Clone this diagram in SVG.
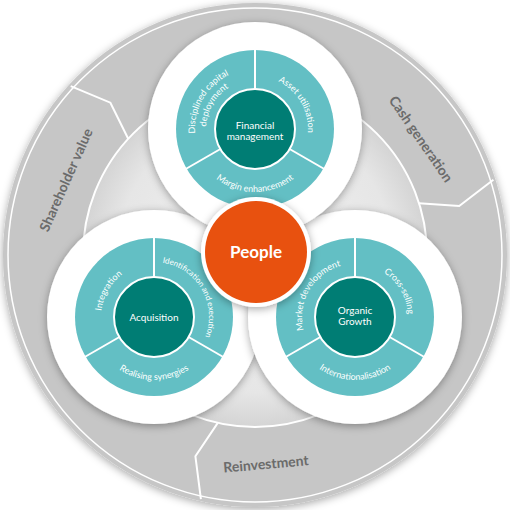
<svg xmlns="http://www.w3.org/2000/svg" xmlns:xlink="http://www.w3.org/1999/xlink" width="510" height="510" viewBox="0 0 510 510">
<style>
.ring{fill:#63bfc4}
.core{fill:#007d74;stroke:#ffffff;stroke-width:2}
.sep{stroke:#ffffff;stroke-width:2;fill:none}
.rt{font-family:Lato,"Open Sans",sans-serif;font-size:9px;fill:#ffffff}
.ct{font-family:Lato,"Open Sans",sans-serif;font-size:10px;fill:#ffffff;text-anchor:middle}
.ot{font-family:Lato,"Open Sans",sans-serif;font-size:14px;font-weight:bold;fill:#6b6b6b;text-anchor:middle}
.div{stroke:#ffffff;stroke-width:2;fill:none;stroke-linejoin:miter}
.wc{fill:#ffffff;filter:url(#sh)}
</style>
<defs>
<filter id="sh" x="-20%" y="-20%" width="140%" height="140%">
<feDropShadow dx="0" dy="2" stdDeviation="4" flood-color="#000000" flood-opacity="0.35"/>
</filter>
<radialGradient id="inner" cx="50%" cy="50%" r="50%">
<stop offset="0" stop-color="#f2f2f2"/>
<stop offset="0.8" stop-color="#e6e6e6"/>
<stop offset="1" stop-color="#d4d4d4"/>
</radialGradient>
<path id="aL53" d="M-30.40,43.42 A53,53 0 0 1 22.40,-48.03"/>
<path id="aL60" d="M-34.42,49.15 A60,60 0 0 1 25.36,-54.38"/>
<path id="aL49" d="M-28.11,40.14 A49,49 0 0 1 20.71,-44.41"/>
<path id="aR53" d="M-22.40,-48.03 A53,53 0 0 1 30.40,43.42"/>
<path id="aR55" d="M-23.24,-49.85 A55,55 0 0 1 31.55,45.06"/>
<path id="aB63" d="M-62.76,5.49 A63,63 0 0 0 62.76,5.49"/>
</defs>
<rect width="510" height="510" fill="#ffffff"/>

<g id="outer-ring">
<circle cx="255" cy="255" r="252" fill="#c6c6c6" filter="url(#sh)"/>
<circle cx="255" cy="255" r="247" fill="none" stroke="#ffffff" stroke-width="1.5"/>
<circle cx="255" cy="255" r="172" fill="url(#inner)" stroke="#ffffff" stroke-width="2"/>
</g>

<g id="connectors">
<polyline class="div" points="70.7,86.1 110.4,102.7 128.2,138.8"/>
<polyline class="div" points="493.4,179.8 459.2,206.0 419.0,203.3"/>
<polyline class="div" points="200.9,499.1 195.4,456.3 217.8,422.9"/>
</g>

<g id="label-shareholder">
<text class="ot" transform="translate(66,180) rotate(-66)" dy="0.35em">Shareholder value</text>
</g>
<g id="label-cash">
<text class="ot" transform="translate(421,139) rotate(55.5)" dy="0.35em">Cash generation</text>
</g>
<g id="label-reinvestment">
<text class="ot" transform="translate(266,464) rotate(-5)" dy="0.35em">Reinvestment</text>
</g>

<g id="node-acquisition" transform="translate(154,317)">
<circle class="wc" r="107"/>
<circle class="ring" r="79"/>
<line class="sep" x1="0" y1="-40" x2="0" y2="-80"/>
<line class="sep" x1="34.6" y1="20" x2="69.3" y2="40"/>
<line class="sep" x1="-34.6" y1="20" x2="-69.3" y2="40"/>
<circle class="core" r="40"/>
<text class="rt"><textPath href="#aL53" xlink:href="#aL53" startOffset="50%" text-anchor="middle">Integration</textPath></text>
<text class="rt" style="font-size:8px"><textPath href="#aR55" xlink:href="#aR55" startOffset="50%" text-anchor="middle">Identification and execution</textPath></text>
<text class="rt"><textPath href="#aB63" xlink:href="#aB63" startOffset="50%" text-anchor="middle">Realising synergies</textPath></text>
<text class="ct" x="0" y="3.5">Acquisition</text>
</g>

<g id="node-organic" transform="translate(355,317)">
<circle class="wc" r="107"/>
<circle class="ring" r="79"/>
<line class="sep" x1="0" y1="-40" x2="0" y2="-80"/>
<line class="sep" x1="34.6" y1="20" x2="69.3" y2="40"/>
<line class="sep" x1="-34.6" y1="20" x2="-69.3" y2="40"/>
<circle class="core" r="40"/>
<text class="rt"><textPath href="#aL53" xlink:href="#aL53" startOffset="50%" text-anchor="middle">Market development</textPath></text>
<text class="rt"><textPath href="#aR53" xlink:href="#aR53" startOffset="50%" text-anchor="middle">Cross-selling</textPath></text>
<text class="rt"><textPath href="#aB63" xlink:href="#aB63" startOffset="50%" text-anchor="middle">Internationalisation</textPath></text>
<text class="ct" x="0" y="-3">Organic</text>
<text class="ct" x="0" y="8">Growth</text>
</g>

<g id="node-financial" transform="translate(255,129)">
<circle class="wc" r="107"/>
<circle class="ring" r="79"/>
<line class="sep" x1="0" y1="-40" x2="0" y2="-80"/>
<line class="sep" x1="34.6" y1="20" x2="69.3" y2="40"/>
<line class="sep" x1="-34.6" y1="20" x2="-69.3" y2="40"/>
<circle class="core" r="40"/>
<text class="rt"><textPath href="#aL60" xlink:href="#aL60" startOffset="50%" text-anchor="middle">Disciplined capital</textPath></text>
<text class="rt"><textPath href="#aL49" xlink:href="#aL49" startOffset="50%" text-anchor="middle">deployment</textPath></text>
<text class="rt"><textPath href="#aR53" xlink:href="#aR53" startOffset="50%" text-anchor="middle">Asset utilisation</textPath></text>
<text class="rt"><textPath href="#aB63" xlink:href="#aB63" startOffset="50%" text-anchor="middle">Margin enhancement</textPath></text>
<text class="ct" x="0" y="0">Financial</text>
<text class="ct" x="0" y="11">management</text>
</g>

<g id="node-people">
<circle cx="256" cy="252" r="55" fill="#ffffff" filter="url(#sh)"/>
<circle cx="256" cy="252" r="51" fill="#e8510f"/>
<text x="256" y="258" font-family="Lato,'Open Sans',sans-serif" font-size="17" font-weight="bold" fill="#ffffff" text-anchor="middle">People</text>
</g>
</svg>
